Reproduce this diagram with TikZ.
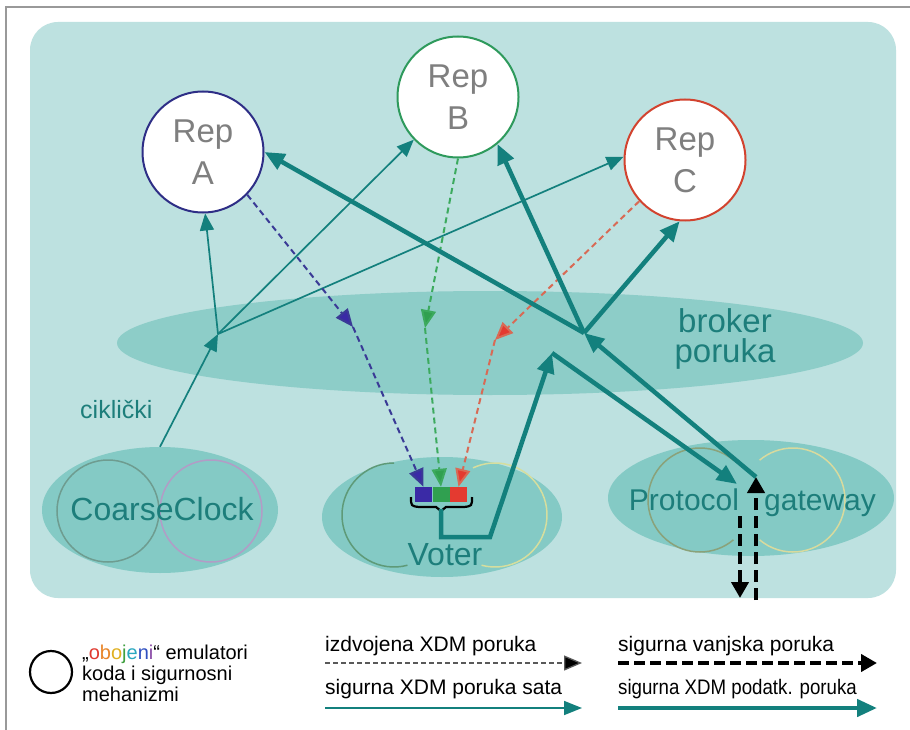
\documentclass[tikz,border=0pt]{standalone}
\usepackage{fontspec}
\setmainfont{Liberation Sans}
\usetikzlibrary{arrows.meta,shapes.geometric}
\definecolor{bgteal}{HTML}{BDE1E0}
\definecolor{brokerc}{HTML}{8DCDC8}
\definecolor{procc}{HTML}{84CAC5}
\definecolor{tealc}{HTML}{13807D}
\definecolor{txtteal}{HTML}{1D7E7B}
\definecolor{repAc}{HTML}{2E2E86}
\definecolor{repBc}{HTML}{2E9A5C}
\definecolor{repCc}{HTML}{D2432F}
\definecolor{dblue}{HTML}{3A3A96}
\definecolor{dgreen}{HTML}{3CAA5E}
\definecolor{dred}{HTML}{D86A55}
\definecolor{boxblue}{HTML}{3A2AA6}
\definecolor{boxgreen}{HTML}{30A050}
\definecolor{boxred}{HTML}{E43A30}
\definecolor{reptxt}{HTML}{7F7F7F}
\definecolor{clkL}{HTML}{6E9C90}
\definecolor{clkR}{HTML}{B29CC6}
\definecolor{votL}{HTML}{5E9A78}
\definecolor{votR}{HTML}{D6DE9E}
\definecolor{gwL}{HTML}{8AA27A}
\definecolor{gwR}{HTML}{D8DA9E}
\definecolor{cO1}{HTML}{E03A30}
\definecolor{cO2}{HTML}{E8862A}
\definecolor{cO3}{HTML}{E0B020}
\definecolor{cO4}{HTML}{40A040}
\definecolor{cO5}{HTML}{2AA8C0}
\definecolor{cO6}{HTML}{3050C0}
\definecolor{cO7}{HTML}{8A4AA6}
\begin{document}
\begin{tikzpicture}[x=1pt,y=-1pt,
  repnode/.style={circle, line width=2pt, fill=white, minimum size=121pt, inner sep=0pt,
     align=center, text=reptxt, font=\fontsize{33}{42}\selectfont},
  procell/.style={ellipse, fill=procc, inner sep=0pt},
  bigtxt/.style={text=txtteal, font=\fontsize{32}{29}\selectfont, inner sep=0pt},
  thinarr/.style={draw=tealc, line width=1.7pt, -{Triangle[length=17pt,width=14pt]}},
  thickarr/.style={draw=tealc, line width=4.5pt, -{Triangle[length=20pt,width=17pt]}},
  xdmarr/.style={line width=2pt, dash pattern=on 6pt off 4pt},
  extarr/.style={draw=black, line width=4pt, dash pattern=on 12pt off 6pt, -{Triangle[length=16pt,width=17pt]}},
  smallbox/.style={minimum width=17pt, minimum height=15pt, inner sep=0pt},
  lgtxt/.style={anchor=base west, inner sep=0pt, font=\fontsize{21}{24}\selectfont},
  legtxt/.style={anchor=base west, inner sep=0pt, font=\fontsize{20}{20}\selectfont}
]
\useasboundingbox (0,0) rectangle (910,730);
\fill[white] (0,0) rectangle (910,730);
\draw[black!40, line width=1.2pt] (6,730) -- (6,7) -- (910,7);
\fill[bgteal, rounded corners=28pt] (30,22) rectangle (896,598);

% broker
\node[ellipse, fill=brokerc, minimum width=746pt, minimum height=104pt, inner sep=0pt] (brk) at (490,343) {};
\node[bigtxt, anchor=base, font=\fontsize{33}{33}\selectfont] (brktxt1) at (725,332) {broker};
\node[bigtxt, anchor=base, font=\fontsize{33}{33}\selectfont] (brktxt2) at (725,362) {poruka};

% CoarseClock
\node[procell, minimum width=236pt, minimum height=126pt] (clock) at (160,510) {};
\draw[clkL, line width=1.5pt] (108,511) circle[radius=51pt];
\draw[clkR, line width=1.5pt] (211,511) circle[radius=51pt];
\node[bigtxt, anchor=base] (clocktxt) at (162,520) {CoarseClock};

% Voter
\node[procell, minimum width=240pt, minimum height=120pt] (voter) at (442,517) {};
\draw[votL, line width=1.5pt] (394,515) ++(90:52pt) arc[start angle=90, end angle=285, radius=52pt];
\draw[votR, line width=1.5pt] (495,515) ++(-105:52pt) arc[start angle=-105, end angle=115, radius=52pt];
\node[bigtxt, anchor=base] (votertxt) at (445,565) {Voter};

% Protocol gateway
\node[procell, minimum width=286pt, minimum height=116pt] (gw) at (751,498) {};
\draw[gwL, line width=1.5pt] (700,500) ++(50:52pt) arc[start angle=50, end angle=310, radius=52pt];
\draw[gwR, line width=1.5pt] (793,500) ++(-130:52pt) arc[start angle=-130, end angle=130, radius=52pt];
\node[bigtxt, anchor=base, font=\fontsize{30}{30}\selectfont] (gwtxt1) at (684,510) {Protocol};
\node[bigtxt, anchor=base, font=\fontsize{30}{30}\selectfont] (gwtxt2) at (820,510) {gateway};

% voter boxes and brace
\node[smallbox, fill=boxblue] (b1) at (423.5,494.5) {};
\node[smallbox, fill=boxgreen] (b2) at (441,494.5) {};
\node[smallbox, fill=boxred] (b3) at (458.5,494.5) {};
\draw[black, line width=2.2pt] (411,497) .. controls (411,506) .. (419,507) -- (436,507) -- (441,511) -- (446,507) -- (464,507) .. controls (472,506) .. (472,497);

% label
\node[text=txtteal, anchor=base west, inner sep=0pt, font=\fontsize{25}{25}\selectfont] (cik) at (80,418) {ciklički};

% replicas
\node[repnode, draw=repAc] (A) at (203,152) {Rep\\A};
\node[repnode, draw=repBc] (B) at (458,97) {Rep\\B};
\node[repnode, draw=repCc] (C) at (685,160) {Rep\\C};

% coordinates
\coordinate (jA) at (218,334);
\coordinate (jB) at (584,333);
\coordinate (pk) at (552,353);
\coordinate (gwin) at (737,484);
\coordinate (gwout) at (756,477);
\coordinate (extin) at (756,600);
\coordinate (dnA) at (740,516);
\coordinate (dnB) at (740,598);
\coordinate (mA) at (353,327);
\coordinate (mB) at (425,328);
\coordinate (mC) at (495,340);
\coordinate (vb) at (441,509);
\coordinate (v1) at (441,537);
\coordinate (v2) at (490,537);

% clock messages
\draw[thinarr] (clock.north) -- (jA);
\draw[thinarr] (jA) -- (A.-88);
\draw[thinarr] (jA) -- (B.-136);
\draw[thinarr] (jA) -- (C.177);

% XDM messages
\draw[xdmarr, draw=dblue, -{Triangle[length=18pt,width=15pt,fill=boxblue]}] (A.-44) -- (mA);
\draw[xdmarr, draw=dblue, -{Triangle[length=18pt,width=15pt,fill=boxblue]}] (mA) -- (b1.north);
\draw[xdmarr, draw=dgreen, -{Triangle[length=18pt,width=15pt,fill=boxgreen]}] (B.south) -- (mB);
\draw[xdmarr, draw=dgreen, -{Triangle[length=18pt,width=15pt,fill=boxgreen]}] (mB) -- (b2.north);
\draw[xdmarr, draw=dred, -{Triangle[length=18pt,width=15pt,fill=boxred]}] (C.-138) -- (mC);
\draw[xdmarr, draw=dred, -{Triangle[length=18pt,width=15pt,fill=boxred]}] (mC) -- (b3.north);

% data messages
\draw[thickarr] (vb) -- (v1) -- (v2) -- (pk);
\draw[thickarr] (pk) -- (gwin);
\draw[thickarr] (gwout) -- (jB);
\draw[thickarr] (jB) -- (A.east);
\draw[thickarr] (jB) -- (B.-50);
\draw[thickarr] (jB) -- (C.-95);

% external messages
\draw[extarr] (extin) -- (gwout);
\draw[extarr] (dnA) -- (dnB);

% legend
\node[circle, draw=black, line width=2.2pt, minimum size=42pt, inner sep=0pt] (lc) at (51,672) {};
\node[legtxt] (lt1) at (82,659) {„\textcolor{cO1}{o}\textcolor{cO2}{b}\textcolor{cO3}{o}\textcolor{cO4}{j}\textcolor{cO5}{e}\textcolor{cO6}{n}\textcolor{cO7}{i}“ emulatori};
\node[legtxt] (lt2) at (82,680) {koda i sigurnosni};
\node[legtxt] (lt3) at (82,701) {mehanizmi};

\node[lgtxt] (l1) at (325,651) {izdvojena XDM poruka};
\coordinate (l1a) at (325,663);
\coordinate (l1b) at (582,663);
\draw[draw=black!65, line width=1.3pt, dash pattern=on 4.5pt off 3.5pt, -{Triangle[length=18pt,width=15pt,fill=black]}] (l1a) -- (l1b);

\node[lgtxt] (l2) at (325,694) {sigurna XDM poruka sata};
\coordinate (l2a) at (325,708);
\coordinate (l2b) at (582,708);
\draw[draw=tealc, line width=1.6pt, -{Triangle[length=18pt,width=14pt]}] (l2a) -- (l2b);

\node[lgtxt] (l3) at (618,651) {sigurna vanjska poruka};
\coordinate (l3a) at (618,663);
\coordinate (l3b) at (877,663);
\draw[draw=black, line width=4pt, dash pattern=on 11pt off 5pt, -{Triangle[length=16pt,width=17pt]}] (l3a) -- (l3b);

\node[lgtxt] (l4) at (618,694) {\scalebox{0.89}[1]{sigurna XDM podatk. poruka}};
\coordinate (l4a) at (618,708);
\coordinate (l4b) at (877,708);
\draw[thickarr] (l4a) -- (l4b);
\end{tikzpicture}
\end{document}
